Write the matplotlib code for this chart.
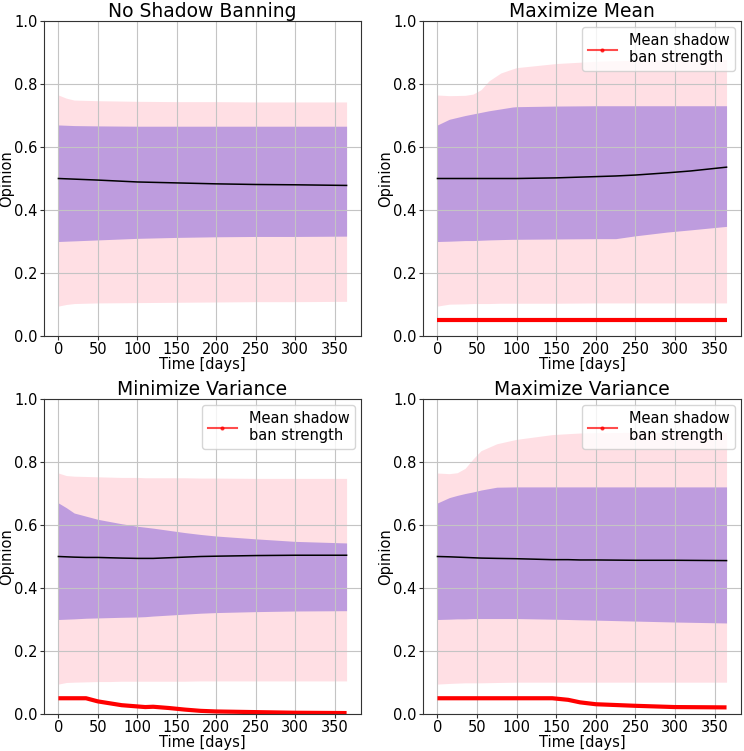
import matplotlib
matplotlib.use("Agg")
import matplotlib.pyplot as plt
from matplotlib.lines import Line2D

# -----------------------------
# Data
# -----------------------------

# No Shadow Banning
t_none = [0, 10, 20, 50, 100, 150, 200, 250, 300, 365]
mean_none = [0.500, 0.499, 0.498, 0.495, 0.489, 0.486, 0.483, 0.481, 0.480, 0.478]
inner_hi_none = [0.670, 0.669, 0.668, 0.667, 0.666, 0.666, 0.666, 0.666, 0.666, 0.666]
inner_lo_none = [0.300, 0.301, 0.302, 0.305, 0.310, 0.313, 0.315, 0.316, 0.316, 0.317]
outer_hi_none = [0.765, 0.755, 0.749, 0.747, 0.745, 0.744, 0.744, 0.743, 0.743, 0.743]
outer_lo_none = [0.095, 0.100, 0.103, 0.105, 0.106, 0.107, 0.108, 0.109, 0.109, 0.110]

# Maximize Mean
t_mean = [0, 15, 35, 45, 55, 65, 80, 95, 100, 150, 200, 225, 250, 290, 320, 365]
mean_mean = [0.500, 0.500, 0.500, 0.500, 0.500, 0.500, 0.500, 0.500, 0.500, 0.502, 0.506,
             0.508, 0.511, 0.518, 0.524, 0.536]
inner_hi_mean = [0.670, 0.688, 0.700, 0.705, 0.710, 0.715, 0.721, 0.727, 0.728, 0.730, 0.731,
                 0.731, 0.731, 0.731, 0.731, 0.731]
inner_lo_mean = [0.300, 0.301, 0.303, 0.303, 0.304, 0.305, 0.306, 0.307, 0.307, 0.308, 0.309,
                 0.309, 0.318, 0.330, 0.337, 0.348]
outer_hi_mean = [0.765, 0.763, 0.764, 0.768, 0.782, 0.810, 0.835, 0.848, 0.852, 0.865, 0.872,
                 0.874, 0.875, 0.877, 0.877, 0.878]
outer_lo_mean = [0.095, 0.101, 0.102, 0.103, 0.103, 0.103, 0.104, 0.104, 0.104, 0.104, 0.105,
                 0.105, 0.105, 0.105, 0.105, 0.105]
ban_mean = [0.050, 0.050, 0.050, 0.050, 0.050, 0.050, 0.050, 0.050, 0.050, 0.050, 0.050,
            0.050, 0.050, 0.050, 0.050, 0.050]

# Minimize Variance
t_minvar = [0, 10, 20, 35, 50, 65, 80, 100, 110, 120, 140, 160, 180, 200, 250, 300, 365]
mean_minvar = [0.500, 0.499, 0.498, 0.497, 0.497, 0.496, 0.495, 0.494, 0.494, 0.494, 0.496,
               0.498, 0.500, 0.501, 0.503, 0.504, 0.504]
inner_hi_minvar = [0.670, 0.655, 0.638, 0.628, 0.618, 0.611, 0.604, 0.596, 0.593, 0.590, 0.583,
                   0.576, 0.570, 0.565, 0.556, 0.548, 0.543]
inner_lo_minvar = [0.300, 0.301, 0.302, 0.304, 0.305, 0.306, 0.307, 0.308, 0.309, 0.311, 0.314,
                   0.317, 0.320, 0.322, 0.325, 0.327, 0.328]
outer_hi_minvar = [0.765, 0.757, 0.755, 0.754, 0.753, 0.752, 0.751, 0.751, 0.750, 0.750, 0.750,
                   0.750, 0.749, 0.749, 0.748, 0.748, 0.748]
outer_lo_minvar = [0.095, 0.100, 0.101, 0.102, 0.103, 0.103, 0.104, 0.104, 0.104, 0.104, 0.104,
                   0.104, 0.105, 0.105, 0.105, 0.105, 0.105]
ban_minvar = [0.050, 0.050, 0.050, 0.050, 0.040, 0.034, 0.028, 0.024, 0.022, 0.023, 0.019,
              0.014, 0.010, 0.008, 0.006, 0.004, 0.003]

# Maximize Variance
t_maxvar = [0, 15, 25, 35, 45, 55, 75, 100, 145, 165, 180, 200, 250, 300, 365]
mean_maxvar = [0.500, 0.499, 0.498, 0.497, 0.496, 0.495, 0.494, 0.493, 0.490, 0.490, 0.489,
               0.489, 0.488, 0.488, 0.487]
inner_hi_maxvar = [0.670, 0.687, 0.694, 0.700, 0.705, 0.711, 0.720, 0.721, 0.721, 0.721, 0.721,
                   0.721, 0.721, 0.721, 0.721]
inner_lo_maxvar = [0.300, 0.301, 0.302, 0.302, 0.303, 0.303, 0.303, 0.303, 0.301, 0.300, 0.299,
                   0.298, 0.295, 0.292, 0.289]
outer_hi_maxvar = [0.765, 0.763, 0.766, 0.780, 0.810, 0.836, 0.858, 0.872, 0.887, 0.890, 0.892,
                   0.893, 0.894, 0.894, 0.894]
outer_lo_maxvar = [0.095, 0.097, 0.098, 0.099, 0.099, 0.099, 0.100, 0.101, 0.101, 0.101, 0.101,
                   0.101, 0.101, 0.101, 0.101]
ban_maxvar = [0.050, 0.050, 0.050, 0.050, 0.050, 0.050, 0.050, 0.050, 0.050, 0.045, 0.037,
              0.031, 0.026, 0.022, 0.021]

panels = [
    ("No Shadow Banning", t_none, mean_none, inner_lo_none, inner_hi_none,
     outer_lo_none, outer_hi_none, None),
    ("Maximize Mean", t_mean, mean_mean, inner_lo_mean, inner_hi_mean,
     outer_lo_mean, outer_hi_mean, ban_mean),
    ("Minimize Variance", t_minvar, mean_minvar, inner_lo_minvar, inner_hi_minvar,
     outer_lo_minvar, outer_hi_minvar, ban_minvar),
    ("Maximize Variance", t_maxvar, mean_maxvar, inner_lo_maxvar, inner_hi_maxvar,
     outer_lo_maxvar, outer_hi_maxvar, ban_maxvar),
]

# axes rectangles in figure fractions (left, bottom, width, height)
W, H = 744, 751
rects = [
    (44 / W, (H - 336) / H, 317 / W, 315 / H),
    (423 / W, (H - 336) / H, 318 / W, 315 / H),
    (44 / W, (H - 714) / H, 317 / W, 315 / H),
    (423 / W, (H - 714) / H, 318 / W, 315 / H),
]

fig = plt.figure(figsize=(W / 100, H / 100), dpi=100)

for (title, t, m, ilo, ihi, olo, ohi, ban), rect in zip(panels, rects):
    ax = fig.add_axes(rect)
    ax.fill_between(t, olo, ohi, color="pink", alpha=0.5, linewidth=0)
    ax.fill_between(t, ilo, ihi, color="mediumpurple", alpha=0.6, linewidth=0)
    ax.plot(t, m, color="black", linewidth=1.1)
    if ban is not None:
        ax.plot(t, ban, color="red", linewidth=3, solid_capstyle="butt")
        handle = Line2D([], [], color="red", marker=".", markersize=4,
                        linewidth=1.5, alpha=0.7)
        ax.legend([handle], ["Mean shadow\nban strength"], loc="upper right",
                  fontsize=10.5, borderaxespad=0.4)
    ax.set_ylim(0, 1)
    ax.set_xticks(range(0, 351, 50))
    ax.set_yticks([0.0, 0.2, 0.4, 0.6, 0.8, 1.0])
    ax.tick_params(labelsize=10.5, length=3, pad=1.5, color="#333333")
    ax.set_xlabel("Time [days]", fontsize=10.5, labelpad=0)
    ax.set_ylabel("Opinion", fontsize=10.5, labelpad=0)
    ax.set_title(title, fontsize=13.5, pad=3)
    ax.grid(True, color="#c4c4c4", linewidth=0.8)
    for sp in ax.spines.values():
        sp.set_color("#333333")

fig.savefig("out.png", dpi=100)
